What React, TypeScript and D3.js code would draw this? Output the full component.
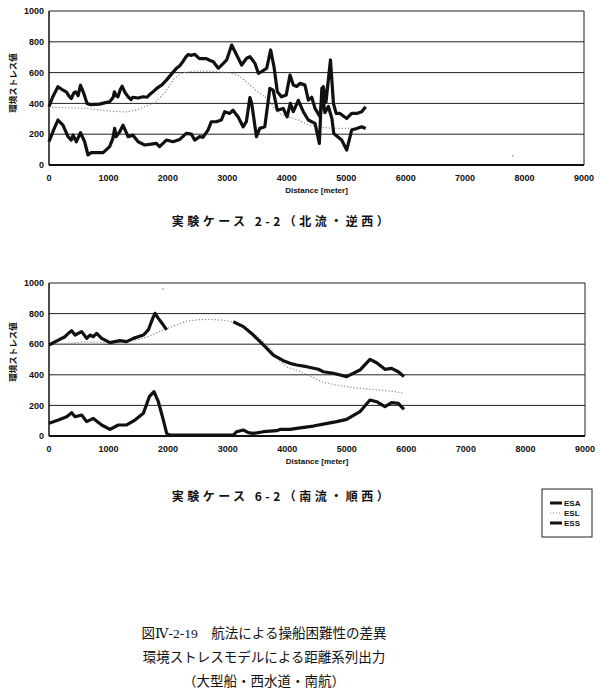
import React from "react";
import * as d3 from "d3";

type Pt = [number, number | null];

// ---------- Data ----------
const xTicks = [0, 1000, 2000, 3000, 4000, 5000, 6000, 7000, 8000, 9000];
const yTicks = [0, 200, 400, 600, 800, 1000];
const seriesNames = ["ESA", "ESL", "ESS"];

const titles = ["実験ケース 2-2（北流・逆西）", "実験ケース 6-2（南流・順西）"];
const captionLines = [
  "図Ⅳ-2-19　航法による操船困難性の差異",
  "環境ストレスモデルによる距離系列出力",
  "（大型船・西水道・南航）",
];

// Case 2-2
const esaTop: Pt[] = [
  [0, 378], [60, 440], [150, 508], [220, 490], [290, 475], [340, 445], [375, 432], [420, 470], [450, 475],
  [490, 450], [530, 518], [580, 470], [640, 400], [700, 392], [850, 395], [950, 405], [1020, 410], [1080, 440],
  [1100, 475], [1130, 450], [1160, 443], [1200, 490], [1230, 512], [1280, 470], [1330, 443], [1380, 425],
  [1410, 440], [1500, 435], [1580, 443], [1650, 440], [1700, 460], [1750, 475], [1830, 503], [1900, 520],
  [1975, 551], [2060, 590], [2140, 626], [2200, 645], [2250, 670], [2300, 700], [2340, 717], [2400, 712],
  [2450, 719], [2530, 691], [2645, 691], [2700, 680], [2764, 671], [2848, 628], [2933, 660], [2989, 682],
  [3073, 779], [3157, 714], [3241, 649], [3325, 693], [3381, 703], [3465, 660], [3521, 595], [3577, 606],
  [3662, 628], [3729, 747], [3785, 638], [3841, 476], [3910, 443], [3990, 454], [4054, 584], [4110, 519],
  [4166, 510], [4222, 530], [4306, 519], [4362, 422], [4420, 440], [4475, 368], [4559, 314], [4615, 509],
  [4660, 411], [4735, 682], [4785, 400], [4830, 335], [4895, 335], [5008, 302], [5092, 335], [5176, 335],
  [5260, 346], [5327, 378],
];
const eslTop: Pt[] = [
  [0, 375], [300, 372], [600, 368], [900, 355], [1100, 348], [1300, 345], [1500, 360], [1650, 385],
  [1800, 410], [1950, 470], [2100, 560], [2250, 600], [2450, 610], [2650, 610], [2850, 605], [3050, 598],
  [3200, 580], [3350, 530], [3500, 480], [3600, 450], [3700, 420], [3800, 365], [3900, 330], [4050, 310],
  [4200, 292], [4350, 262], [4500, 250], [4700, 240], [4900, 238], [5100, 238], [5250, 238], [5330, 240],
];
const eslTopStray: Pt[] = [[7800, 60]];
const essTop: Pt[] = [
  [0, 151], [80, 230], [150, 292], [235, 259], [320, 184], [375, 162], [405, 194], [460, 151], [530, 210],
  [600, 151], [655, 65], [710, 80], [910, 80], [1020, 119], [1075, 173], [1105, 238], [1130, 184], [1190, 216],
  [1245, 259], [1330, 184], [1410, 194], [1500, 151], [1610, 130], [1720, 136], [1805, 140], [1860, 119],
  [1975, 162], [2085, 151], [2200, 166], [2310, 205], [2395, 201], [2450, 162], [2535, 184], [2590, 180],
  [2675, 227], [2730, 281], [2815, 281], [2900, 292], [2955, 346], [3040, 335], [3095, 356], [3180, 313],
  [3265, 248], [3320, 281], [3380, 438], [3410, 400], [3490, 184], [3545, 238], [3630, 248], [3715, 497],
  [3770, 486], [3840, 356], [3940, 367], [4005, 313], [4060, 400], [4110, 346], [4194, 420], [4278, 346],
  [4362, 292], [4475, 270], [4548, 140], [4590, 500], [4640, 340], [4700, 380], [4760, 300], [4790, 205],
  [4923, 162], [5008, 97], [5092, 227], [5176, 237], [5260, 248], [5327, 237],
];

// Case 6-2
const esaBot: Pt[] = [
  [0, 595], [157, 627], [269, 649], [325, 671], [381, 688], [437, 660], [549, 682], [632, 638], [688, 660],
  [744, 649], [800, 671], [884, 638], [1024, 610], [1108, 617], [1192, 623], [1304, 617], [1416, 638],
  [1584, 660], [1668, 693], [1741, 769], [1780, 802], [1836, 769], [1920, 725], [1976, 693], [2000, null],
  [3050, null], [3095, 747], [3263, 715], [3431, 660], [3599, 595], [3767, 529], [3935, 492], [4047, 475],
  [4158, 464], [4326, 453], [4522, 436], [4606, 420], [4774, 410], [4997, 388], [5221, 431], [5389, 501],
  [5501, 479], [5641, 436], [5753, 442], [5865, 420], [5960, 388],
];
const eslBot: Pt[] = [
  [0, 595], [300, 605], [600, 615], [900, 612], [1200, 610], [1500, 630], [1700, 655], [1900, 690],
  [2100, 720], [2300, 750], [2500, 760], [2700, 762], [2900, 758], [3100, 745], [3300, 712], [3500, 650],
  [3700, 580], [3850, 500], [4000, 450], [4200, 425], [4400, 388], [4600, 352], [4800, 335], [5000, 322],
  [5200, 312], [5400, 305], [5600, 298], [5800, 290], [5960, 279],
];
const eslBotStray: Pt[] = [[1915, 960]];
const essBot: Pt[] = [
  [0, 83], [157, 104], [297, 126], [381, 152], [437, 126], [549, 137], [632, 94], [744, 115], [884, 72],
  [1024, 43], [1164, 72], [1304, 72], [1444, 104], [1584, 148], [1685, 257], [1763, 290], [1836, 224],
  [1920, 104], [1976, 17], [2032, 6], [3095, 6], [3151, 28], [3263, 39], [3347, 22], [3431, 17], [3599, 28],
  [3823, 35], [3878, 43], [4047, 43], [4158, 50], [4438, 65], [4606, 78], [4830, 94], [4997, 109],
  [5221, 159], [5389, 235], [5501, 224], [5641, 192], [5753, 218], [5865, 213], [5960, 174],
];

// ---------- Chart ----------
const SANS = "'Liberation Sans', Arial, 'Noto Sans CJK JP', sans-serif";
const JP = "'Noto Sans CJK JP', sans-serif";
const SERIF = "'Liberation Serif', 'DejaVu Serif', 'Noto Sans CJK JP', serif";

type ChartProps = {
  top: number;
  bottom: number;
  left: number;
  right: number;
  esa: Pt[];
  esl: Pt[];
  eslStray: Pt[];
  ess: Pt[];
  title: string;
  titleY: number;
  yLabelY: number;
};

function Chart(p: ChartProps) {
  const x = d3.scaleLinear().domain([0, 9000]).range([p.left, p.right]);
  const y = d3.scaleLinear().domain([0, 1000]).range([p.bottom, p.top]);
  const line = d3
    .line<Pt>()
    .defined((d) => d[1] != null)
    .x((d) => x(d[0]))
    .y((d) => y(d[1] as number));
  return (
    <g>
      {yTicks.filter((t) => t > 0).map((t) => (
        <line key={t} x1={p.left} x2={p.right} y1={y(t)} y2={y(t)} stroke="#222" strokeWidth={1} />
      ))}
      <line x1={p.right} x2={p.right} y1={p.top} y2={p.bottom} stroke="#222" strokeWidth={1} />
      <line x1={p.left} x2={p.left} y1={p.top} y2={p.bottom} stroke="#111" strokeWidth={1.5} />
      <line x1={p.left} x2={p.right} y1={p.bottom} y2={p.bottom} stroke="#111" strokeWidth={2} />
      {yTicks.map((t) => (
        <text key={t} x={p.left - 5} y={y(t)} dy="0.35em" textAnchor="end" fontFamily={SANS} fontWeight="bold" fontSize={9} fill="#111">
          {t}
        </text>
      ))}
      {xTicks.map((t) => (
        <text key={t} x={x(t)} y={p.bottom + 16} textAnchor="middle" fontFamily={SANS} fontWeight="bold" fontSize={9} fill="#111">
          {t}
        </text>
      ))}
      <text x={(p.left + p.right) / 2} y={p.bottom + 28} textAnchor="middle" fontFamily={SANS} fontWeight="bold" fontSize={8} fill="#111">
        Distance  [meter]
      </text>
      <text
        transform={`translate(16,${p.yLabelY}) rotate(-90)`}
        textAnchor="middle"
        fontFamily={JP}
        fontWeight="bold"
        fontSize={8.5}
        fill="#111"
      >
        環境ストレス値
      </text>
      <path d={line(p.esl) || ""} fill="none" stroke="#8a8a8a" strokeWidth={1.2} strokeDasharray="1.2,2" />
      {p.eslStray.map((d, i) => (
        <circle key={i} cx={x(d[0])} cy={y(d[1] as number)} r={0.8} fill="#888" />
      ))}
      <path d={line(p.ess) || ""} fill="none" stroke="#111" strokeWidth={3.2} strokeLinejoin="round" />
      <path d={line(p.esa) || ""} fill="none" stroke="#111" strokeWidth={3.2} strokeLinejoin="round" />
      <text x={282} y={p.titleY} dy="0.35em" textAnchor="middle" fontFamily={JP} fontWeight="bold" fontSize={12} letterSpacing={3.5} fill="#111">
        {p.title}
      </text>
    </g>
  );
}

export default function App() {
  const lgX = 542;
  const lgY = 489;
  return (
    <svg width={600} height={696} style={{ position: "absolute", left: 0, top: 0, background: "#fff" }}>
      <rect width={600} height={696} fill="#fff" />
      <Chart top={11} bottom={165} left={49} right={584} esa={esaTop} esl={eslTop} eslStray={eslTopStray} ess={essTop} title={titles[0]} titleY={222} yLabelY={83} />
      <Chart top={283} bottom={436} left={49} right={585} esa={esaBot} esl={eslBot} eslStray={eslBotStray} ess={essBot} title={titles[1]} titleY={497} yLabelY={352} />
      <g>
        <rect x={lgX} y={lgY} width={50} height={48} fill="#fff" stroke="#222" strokeWidth={1} />
        {seriesNames.map((s, i) => (
          <g key={s}>
            <line
              x1={lgX + 8}
              x2={lgX + 20}
              y1={lgY + 14 + i * 10}
              y2={lgY + 14 + i * 10}
              stroke={s === "ESL" ? "#8a8a8a" : "#111"}
              strokeWidth={s === "ESL" ? 1 : 3}
              strokeDasharray={s === "ESL" ? "1,2" : undefined}
            />
            <text x={lgX + 22} y={lgY + 14 + i * 10} dy="0.35em" fontFamily={SANS} fontWeight="bold" fontSize={8} fill="#111">
              {s}
            </text>
          </g>
        ))}
      </g>
      {captionLines.map((c, i) => (
        <text key={i} x={264} y={633 + i * 24} dy="0.35em" textAnchor="middle" fontFamily={SERIF} fontSize={13.5} fill="#111">
          {c}
        </text>
      ))}
    </svg>
  );
}
